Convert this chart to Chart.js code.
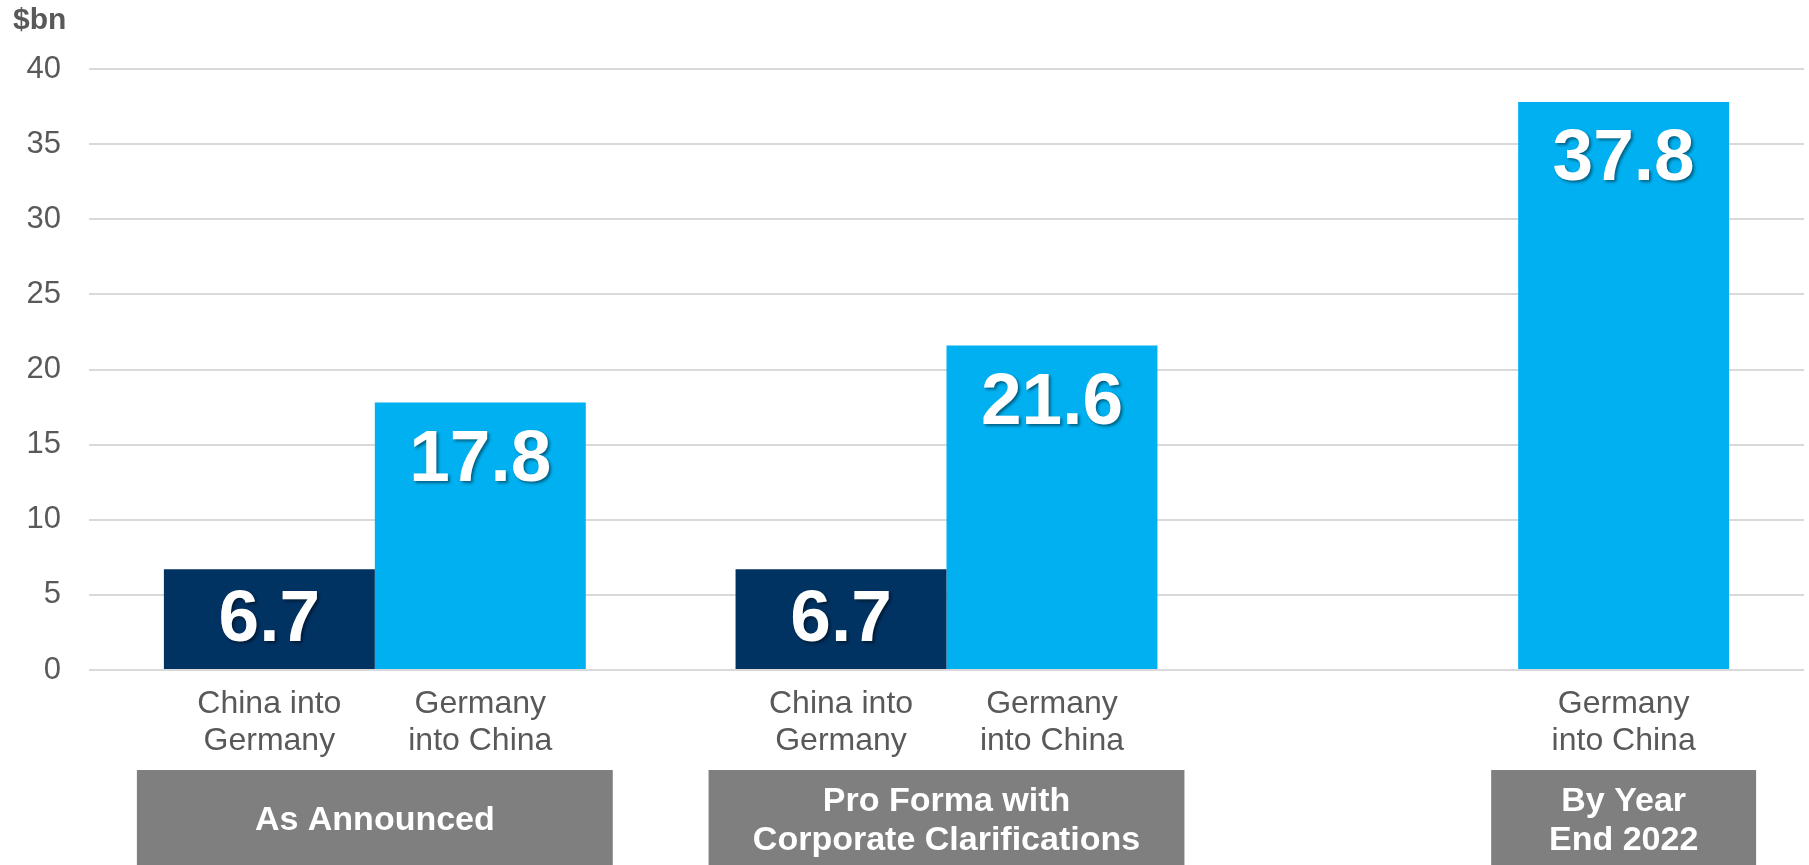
<!DOCTYPE html>
<html>
<head>
<meta charset="utf-8">
<script src="https://cdn.jsdelivr.net/npm/chart.js@4/dist/chart.umd.min.js"></script>
<style>
  html, body { margin: 0; padding: 0; background: #fff; }
  #wrap { width: 1809px; height: 865px; position: relative; }
</style>
</head>
<body>
<div id="wrap"><canvas id="bar_chart"></canvas></div>
<script>
// groups (shown in the grey boxes under the axis)
const groups = [
  ['As Announced'],
  ['Pro Forma with', 'Corporate Clarifications'],
  ['By Year', 'End 2022']
];
// series names (shown under each bar)
const seriesNames = [
  ['China into', 'Germany'],
  ['Germany', 'into China']
];
const chinaIntoGermany = [6.7, 6.7, null];
const germanyIntoChina = [17.8, 21.6, 37.8];
const unitLabel = '$bn';
const yMin = 0, yMax = 40, yStep = 5;

const FONT = 'Arial, "Liberation Sans", sans-serif';
const GREY_TEXT = '#595959';

const annotate = {
  id: 'annotate',
  afterDatasetsDraw(chart) {
    const ctx = chart.ctx;
    const area = chart.chartArea;

    chart.data.datasets.forEach((ds, i) => {
      chart.getDatasetMeta(i).data.forEach((bar, j) => {
        const v = ds.data[j];
        if (v == null) return;
        const h = bar.base - bar.y;
        // value inside bar
        ctx.save();
        ctx.font = 'bold 73px ' + FONT;
        ctx.textAlign = 'center';
        ctx.textBaseline = 'middle';
        ctx.fillStyle = '#ffffff';
        ctx.shadowColor = 'rgba(0,0,0,0.45)';
        ctx.shadowOffsetX = 2;
        ctx.shadowOffsetY = 2;
        ctx.shadowBlur = 3;
        ctx.fillText(v.toFixed(1), bar.x, bar.y + Math.min(56, h / 2) + 2);
        ctx.restore();
        // series name under bar
        ctx.save();
        ctx.font = '32px ' + FONT;
        ctx.textAlign = 'center';
        ctx.textBaseline = 'middle';
        ctx.fillStyle = GREY_TEXT;
        seriesNames[i].forEach((line, k) => {
          ctx.fillText(line, bar.x, area.bottom + 34 + k * 37);
        });
        ctx.restore();
      });
    });

    // grey group boxes
    groups.forEach((lines, j) => {
      const bars = [];
      chart.data.datasets.forEach((ds, i) => {
        if (ds.data[j] != null) bars.push(chart.getDatasetMeta(i).data[j]);
      });
      const left = Math.min(...bars.map(b => b.x - b.width / 2)) - 27;
      const right = Math.max(...bars.map(b => b.x + b.width / 2)) + 27;
      const top = area.bottom + 100;
      ctx.save();
      ctx.fillStyle = '#7f7f7f';
      ctx.fillRect(left, top, right - left, chart.height - top);
      ctx.font = 'bold 34px ' + FONT;
      ctx.textAlign = 'center';
      ctx.textBaseline = 'middle';
      ctx.fillStyle = '#ffffff';
      const cy = area.bottom + 151;
      lines.forEach((line, k) => {
        ctx.fillText(line, (left + right) / 2, cy + (k - (lines.length - 1) / 2) * 39);
      });
      ctx.restore();
    });

    // unit label
    ctx.save();
    ctx.font = 'bold 30px ' + FONT;
    ctx.textAlign = 'left';
    ctx.textBaseline = 'middle';
    ctx.fillStyle = GREY_TEXT;
    ctx.fillText(unitLabel, 13, 21);
    ctx.restore();
  }
};

const ctx = document.getElementById('bar_chart');
new Chart(ctx, {
  type: 'bar',
  data: {
    labels: groups,
    datasets: [{
      label: seriesNames[0].join(' '),
      data: chinaIntoGermany,
      backgroundColor: '#003262',
      borderWidth: 0
    }, {
      label: seriesNames[1].join(' '),
      data: germanyIntoChina,
      backgroundColor: '#00b0f0',
      borderWidth: 0
    }]
  },
  options: {
    responsive: true,
    maintainAspectRatio: false,
    animation: false,
    layout: { padding: { top: 69, left: 26, right: 5, bottom: 195 } },
    plugins: {
      legend: { display: false },
      tooltip: { enabled: false }
    },
    datasets: {
      bar: { categoryPercentage: 0.738, barPercentage: 1 }
    },
    scales: {
      x: { display: false },
      y: {
        min: yMin,
        max: yMax,
        border: { display: false },
        grid: { color: '#d9d9d9', lineWidth: 2, drawTicks: false },
        afterFit(scale) { scale.width = 63; },
        ticks: {
          stepSize: yStep,
          padding: 28,
          color: GREY_TEXT,
          font: { family: FONT, size: 31 }
        }
      }
    }
  },
  plugins: [annotate]
});
</script>
</body>
</html>
